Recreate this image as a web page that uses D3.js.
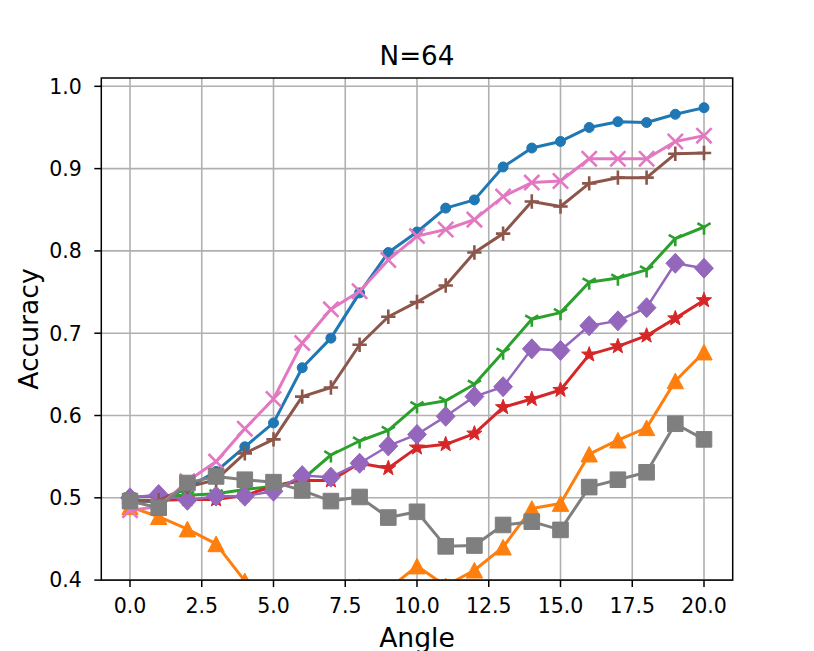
<!DOCTYPE html>
<html>
<head>
<meta charset="utf-8">
<script src="https://cdn.jsdelivr.net/npm/d3@7"></script>
<style>
  html, body { margin: 0; padding: 0; background: #fff; }
  svg { display: block; font-family: "DejaVu Sans", sans-serif; }
</style>
</head>
<body>
<svg id="chart" width="814" height="651"></svg>
<script>
// ---------------- data ----------------
const angles = [0,1,2,3,4,5,6,7,8,9,10,11,12,13,14,15,16,17,18,19,20];
const xTicks = [0, 2.5, 5, 7.5, 10, 12.5, 15, 17.5, 20];
const yTicks = [0.4, 0.5, 0.6, 0.7, 0.8, 0.9, 1.0];
const titleText = "N=64";
const xLabel = "Angle";
const yLabel = "Accuracy";

const blueSeries   = [0.497,0.495,0.512,0.532,0.562,0.591,0.658,0.694,0.749,0.798,0.823,0.852,0.862,0.902,0.925,0.933,0.950,0.957,0.956,0.966,0.974];
const orangeSeries = [0.489,0.477,0.462,0.444,0.399,0.375,0.365,0.375,0.392,0.389,0.417,0.393,0.412,0.440,0.487,0.493,0.553,0.570,0.585,0.642,0.677];
const greenSeries  = [0.501,0.502,0.503,0.505,0.510,0.514,0.522,0.552,0.569,0.582,0.612,0.618,0.638,0.677,0.717,0.725,0.762,0.767,0.777,0.815,0.829];
const redSeries    = [0.496,0.497,0.498,0.498,0.503,0.514,0.521,0.521,0.542,0.536,0.561,0.565,0.578,0.610,0.620,0.631,0.674,0.684,0.697,0.718,0.740];
const purpleSeries = [0.500,0.504,0.497,0.502,0.502,0.508,0.527,0.525,0.542,0.563,0.577,0.599,0.623,0.635,0.681,0.679,0.709,0.715,0.731,0.785,0.779];
const brownSeries  = [0.495,0.497,0.513,0.522,0.554,0.571,0.623,0.634,0.686,0.720,0.738,0.758,0.798,0.821,0.860,0.854,0.882,0.889,0.889,0.918,0.919];
const pinkSeries   = [0.485,0.489,0.520,0.544,0.584,0.620,0.688,0.729,0.751,0.789,0.818,0.826,0.838,0.866,0.883,0.885,0.912,0.912,0.912,0.933,0.940];
const graySeries   = [0.496,0.488,0.518,0.526,0.522,0.519,0.509,0.496,0.501,0.476,0.483,0.441,0.442,0.467,0.471,0.461,0.513,0.522,0.531,0.590,0.571];

const seriesList = [
  { values: blueSeries,   color: "#1f77b4", marker: "circle",  lw: 3.0 },
  { values: orangeSeries, color: "#ff7f0e", marker: "triangle",lw: 3.0 },
  { values: greenSeries,  color: "#2ca02c", marker: "tri_down",lw: 3.0 },
  { values: redSeries,    color: "#d62728", marker: "star",    lw: 3.0 },
  { values: purpleSeries, color: "#9467bd", marker: "diamond", lw: 2.5 },
  { values: brownSeries,  color: "#8c564b", marker: "plus",    lw: 3.0 },
  { values: pinkSeries,   color: "#e377c2", marker: "x",       lw: 3.0 },
  { values: graySeries,   color: "#7f7f7f", marker: "square",  lw: 3.0 }
];

// ---------------- layout ----------------
const svg = d3.select("#chart");
const L = 101.3, R = 732.7, T = 78, B = 580.1;

const x = d3.scaleLinear().domain([-1, 21]).range([L, R]);
const y = d3.scaleLinear().domain([0.4, 1.0101]).range([B, T]);

svg.append("defs").append("clipPath").attr("id", "plotclip")
  .append("rect").attr("x", L).attr("y", T).attr("width", R - L).attr("height", B - T);

// grid
const grid = svg.append("g");
grid.selectAll("line.vx").data(xTicks).enter().append("line")
  .attr("x1", d => x(d)).attr("x2", d => x(d)).attr("y1", T).attr("y2", B)
  .attr("stroke", "#b0b0b0").attr("stroke-width", 1.6);
grid.selectAll("line.hy").data(yTicks).enter().append("line")
  .attr("x1", L).attr("x2", R).attr("y1", d => y(d)).attr("y2", d => y(d))
  .attr("stroke", "#b0b0b0").attr("stroke-width", 1.6);

// marker paths
function markerPath(type) {
  switch (type) {
    case "circle": { const r = 5.0; return `M${-r},0A${r},${r} 0 1,0 ${r},0A${r},${r} 0 1,0 ${-r},0Z`; }
    case "triangle": { const w = 8.2, h = 7.8; return `M0,${-h}L${w},${h}L${-w},${h}Z`; }
    case "square": { const s = 7.8; return `M${-s},${-s}L${s},${-s}L${s},${s}L${-s},${s}Z`; }
    case "diamond": { const w = 9.4, h = 10; return `M0,${-h}L${w},0L0,${h}L${-w},0Z`; }
    case "star": {
      const Ro = 8.0, Ri = 3.3; let p = "";
      for (let i = 0; i < 10; i++) {
        const r = i % 2 === 0 ? Ro : Ri;
        const a = -Math.PI / 2 + i * Math.PI / 5;
        p += (i === 0 ? "M" : "L") + (r * Math.cos(a)).toFixed(2) + "," + (r * Math.sin(a)).toFixed(2);
      }
      return p + "Z";
    }
    case "plus": { const s = 7.2; return `M${-s},0L${s},0M0,${-s}L0,${s}`; }
    case "x": { const s = 7.6; return `M${-s},${-s}L${s},${s}M${-s},${s}L${s},${-s}`; }
    case "tri_down": {
      const s = 7.6; const c = s * 0.866, d = s * 0.5;
      return `M0,0L0,${s}M0,0L${-c},${-d}M0,0L${c},${-d}`;
    }
  }
}
const strokeOnly = { plus: true, x: true, tri_down: true };

const plot = svg.append("g").attr("clip-path", "url(#plotclip)");
const line = d3.line().x((d, i) => x(angles[i])).y(d => y(d));

seriesList.forEach(s => {
  const g = plot.append("g");
  g.append("path").datum(s.values)
    .attr("d", line).attr("fill", "none")
    .attr("stroke", s.color).attr("stroke-width", s.lw)
    .attr("stroke-linejoin", "round").attr("stroke-linecap", "square");
  const mp = markerPath(s.marker);
  g.selectAll("path.m").data(s.values).enter().append("path")
    .attr("class", "m")
    .attr("transform", (d, i) => `translate(${x(angles[i])},${y(d)})`)
    .attr("d", mp)
    .attr("fill", strokeOnly[s.marker] ? "none" : s.color)
    .attr("stroke", s.color)
    .attr("stroke-width", strokeOnly[s.marker] ? 2.6 : 1);
});

// spines
svg.append("rect").attr("x", L).attr("y", T).attr("width", R - L).attr("height", B - T)
  .attr("fill", "none").attr("stroke", "#000").attr("stroke-width", 1.5);

// x ticks
const xt = svg.append("g");
xt.selectAll("line").data(xTicks).enter().append("line")
  .attr("x1", d => x(d)).attr("x2", d => x(d)).attr("y1", B).attr("y2", B + 7)
  .attr("stroke", "#000").attr("stroke-width", 1.5);
xt.selectAll("text").data(xTicks).enter().append("text")
  .attr("x", d => x(d)).attr("y", B + 32.5)
  .attr("text-anchor", "middle").attr("font-size", 20.5).attr("fill", "#000")
  .text(d => d.toFixed(1));

// y ticks
const yt = svg.append("g");
yt.selectAll("line").data(yTicks).enter().append("line")
  .attr("x1", L - 7).attr("x2", L).attr("y1", d => y(d)).attr("y2", d => y(d))
  .attr("stroke", "#000").attr("stroke-width", 1.5);
yt.selectAll("text").data(yTicks).enter().append("text")
  .attr("x", L - 19.5).attr("y", d => y(d)).attr("dy", "0.36em")
  .attr("text-anchor", "end").attr("font-size", 20.5).attr("fill", "#000")
  .text(d => d.toFixed(1));

// labels
svg.append("text").attr("x", (L + R) / 2).attr("y", 646.5)
  .attr("text-anchor", "middle").attr("font-size", 26.6).attr("fill", "#000").text(xLabel);
svg.append("text")
  .attr("transform", `translate(37.5,${(T + B) / 2}) rotate(-90)`)
  .attr("text-anchor", "middle").attr("font-size", 26.6).attr("fill", "#000").text(yLabel);
svg.append("text").attr("x", (L + R) / 2).attr("y", 65)
  .attr("text-anchor", "middle").attr("font-size", 26.2).attr("fill", "#000").text(titleText);
</script>
</body>
</html>
